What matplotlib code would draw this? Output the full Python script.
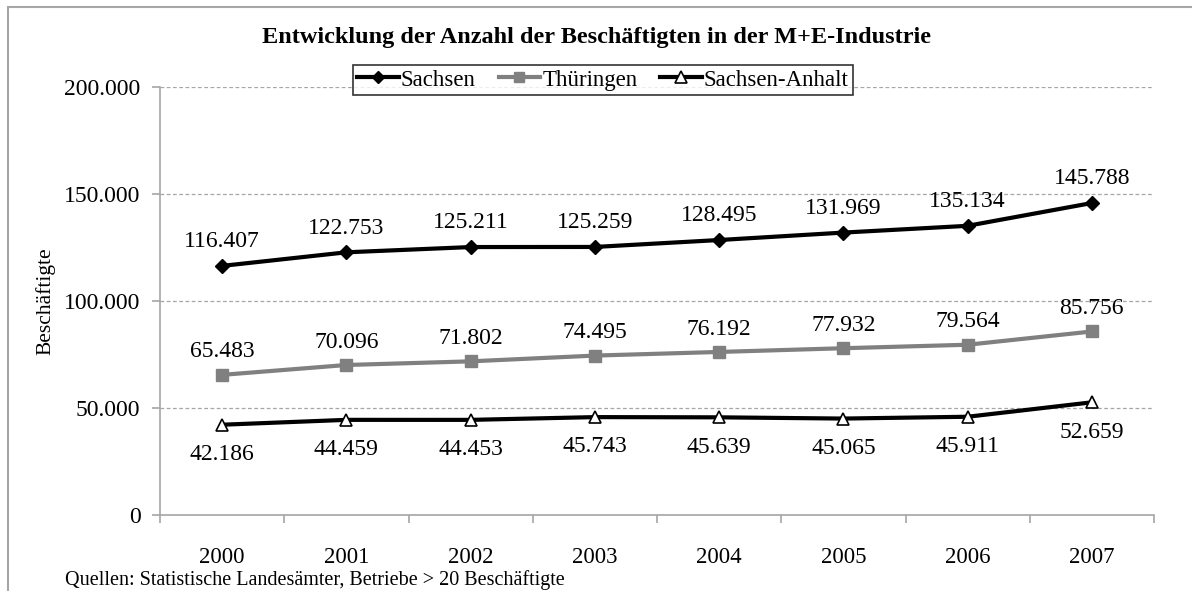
"""
Entwicklung der Anzahl der Beschäftigten in der M+E-Industrie, 2000-2007.
"""

import matplotlib.pyplot as plt
from matplotlib.patches import Rectangle
from matplotlib.ticker import FuncFormatter, FixedLocator

years = ["2000", "2001", "2002", "2003", "2004", "2005", "2006", "2007"]
sachsen = [116407, 122753, 125211, 125259, 128495, 131969, 135134, 145788]
thueringen = [65483, 70096, 71802, 74495, 76192, 77932, 79564, 85756]
sachsen_anhalt = [42186, 44459, 44453, 45743, 45639, 45065, 45911, 52659]

plt.rcParams["font.family"] = ["Liberation Serif", "DejaVu Serif"]

fig = plt.figure(figsize=(11.92, 5.91), dpi=100)
ax = fig.add_axes([160 / 1192, 1 - 515 / 591, (1154 - 160) / 1192, (515 - 87) / 591])

# outer frame of the chart object
fig.patches.append(Rectangle((8 / 1192, -0.05), 1.2, 1 - 7 / 591 + 0.05, transform=fig.transFigure,
                             fill=False, edgecolor="#a6a6a6", linewidth=1.5))

x = list(range(len(years)))
ax.plot(x, sachsen, color="black", lw=3, marker="D", ms=7, mfc="black", mec="black",
        label="Sachsen", zorder=4)
ax.plot(x, thueringen, color="#808080", lw=3, marker="s", ms=8, mfc="#808080", mec="#808080",
        label="Thüringen", zorder=4)
ax.plot(x, sachsen_anhalt, color="black", lw=3, marker="^", ms=9, mfc="white", mec="black",
        mew=1.2, label="Sachsen-Anhalt", zorder=4)


def de(v):
    return f"{v:,.0f}".replace(",", ".")


for xi, v in zip(x, sachsen):
    ax.annotate(de(v), (xi, v), xytext=(0, 17.5), textcoords="offset points",
                ha="center", va="center", fontsize=17)
for xi, v in zip(x, thueringen):
    ax.annotate(de(v), (xi, v), xytext=(0, 16.5), textcoords="offset points",
                ha="center", va="center", fontsize=17)
for xi, v in zip(x, sachsen_anhalt):
    ax.annotate(de(v), (xi, v), xytext=(0, -21.5), textcoords="offset points",
                ha="center", va="center", fontsize=17)

ax.set_xlim(-0.5, 7.5)
ax.set_ylim(0, 200000)
ax.set_yticks([0, 50000, 100000, 150000, 200000])
ax.yaxis.set_major_formatter(FuncFormatter(lambda v, p: "0" if v == 0 else de(v)))
ax.set_xticks(x)
ax.set_xticklabels(years)
ax.xaxis.set_minor_locator(FixedLocator([i - 0.5 for i in range(len(years) + 1)]))
ax.tick_params(axis="x", which="major", length=0, pad=23, labelsize=16.5)
ax.tick_params(axis="x", which="minor", length=6, color="#a6a6a6", width=1.2)
ax.tick_params(axis="y", length=6, color="#a6a6a6", width=1.2, labelsize=17, pad=8)

ax.grid(axis="y", color="#a6a6a6", linestyle=(0, (3, 2)), linewidth=0.9)
ax.set_axisbelow(True)
for s in ["top", "right"]:
    ax.spines[s].set_visible(False)
for s in ["left", "bottom"]:
    ax.spines[s].set_color("#a6a6a6")
    ax.spines[s].set_linewidth(1.2)

ax.set_ylabel("Beschäftigte", fontsize=15.5, labelpad=6)

fig.text(597 / 1192, 1 - 37 / 591, "Entwicklung der Anzahl der Beschäftigten in der M+E-Industrie",
         ha="center", va="center", fontsize=17.5, fontweight="bold")
fig.text(65 / 1192, 1 - 580 / 591, "Quellen: Statistische Landesämter, Betriebe > 20 Beschäftigte",
         ha="left", va="center", fontsize=14.5)

leg = fig.legend(loc="center", bbox_to_anchor=(603 / 1192, 1 - 80 / 591), ncol=3, fontsize=16.5,
                 frameon=True, fancybox=False, edgecolor="black", handlelength=1.8,
                 handletextpad=0.1, columnspacing=1.0, borderpad=0.2, markerscale=0.9)
leg.get_frame().set_linewidth(1.2)

fig.savefig("out.png", dpi=100)
